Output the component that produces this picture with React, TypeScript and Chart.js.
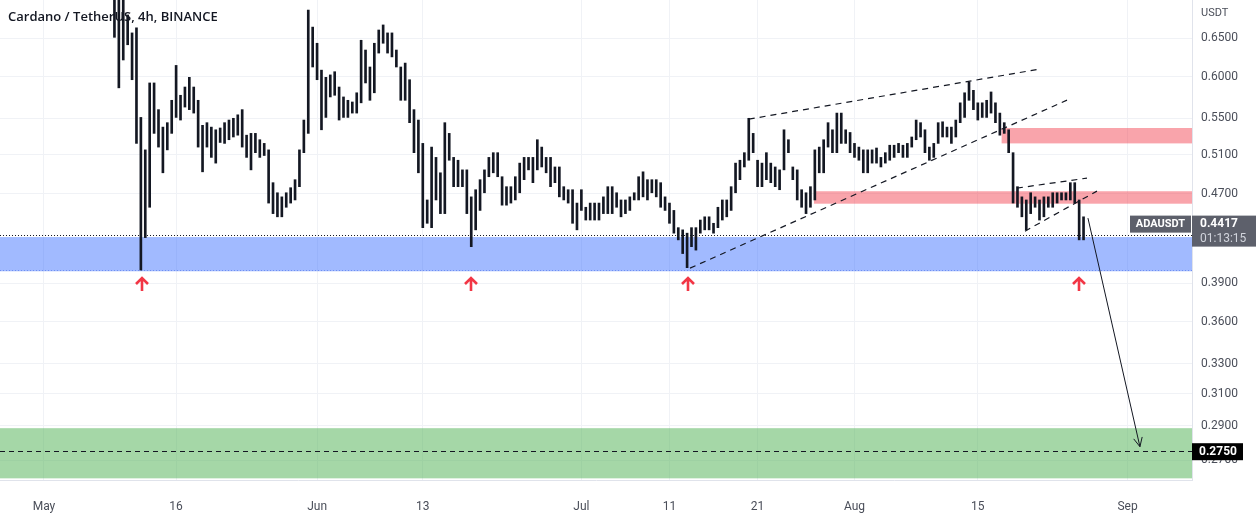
import React, { useEffect, useRef } from "react";
import { Chart, registerables } from "chart.js";

Chart.register(...registerables);

// ---- data (time in days since 1 May 2022, prices in USDT) ----
const candleStartDay = 8; // 9 May 2022 00:00
const candleStepDays = 0.5;

const highs = [
  0.760, 0.740, 0.720, 0.682, 0.657, 0.664, 0.551, 0.515, 0.592, 0.592,
  0.560, 0.540, 0.545, 0.571, 0.614, 0.577, 0.587, 0.599, 0.587, 0.571,
  0.542, 0.545, 0.540, 0.537, 0.539, 0.545, 0.548, 0.550, 0.554, 0.560,
  0.531, 0.533, 0.533, 0.526, 0.522, 0.515, 0.481, 0.471, 0.467, 0.471,
  0.476, 0.484, 0.515, 0.548, 0.689, 0.665, 0.643, 0.608, 0.599, 0.602,
  0.606, 0.587, 0.575, 0.571, 0.569, 0.580, 0.647, 0.634, 0.612, 0.643,
  0.661, 0.668, 0.657, 0.657, 0.634, 0.612, 0.617, 0.596, 0.560, 0.548,
  0.522, 0.464, 0.518, 0.507, 0.491, 0.545, 0.533, 0.507, 0.504, 0.494,
  0.494, 0.467, 0.474, 0.484, 0.494, 0.507, 0.512, 0.512, 0.487, 0.477,
  0.477, 0.487, 0.501, 0.507, 0.507, 0.507, 0.526, 0.518, 0.507, 0.507,
  0.497, 0.497, 0.477, 0.474, 0.474, 0.461, 0.474, 0.457, 0.461, 0.461,
  0.461, 0.467, 0.477, 0.477, 0.471, 0.464, 0.464, 0.467, 0.471, 0.487,
  0.492, 0.484, 0.484, 0.484, 0.481, 0.467, 0.461, 0.454, 0.438, 0.436,
  0.433, 0.438, 0.438, 0.445, 0.448, 0.448, 0.442, 0.457, 0.464, 0.464,
  0.477, 0.501, 0.504, 0.512, 0.550, 0.533, 0.504, 0.501, 0.512, 0.501,
  0.497, 0.494, 0.537, 0.526, 0.497, 0.494, 0.474, 0.471, 0.477, 0.515,
  0.518, 0.526, 0.545, 0.537, 0.556, 0.556, 0.537, 0.534, 0.522, 0.518,
  0.515, 0.515, 0.515, 0.517, 0.507, 0.512, 0.520, 0.520, 0.522, 0.520,
  0.522, 0.529, 0.548, 0.545, 0.537, 0.518, 0.522, 0.545, 0.546, 0.540,
  0.540, 0.548, 0.568, 0.580, 0.593, 0.583, 0.568, 0.568, 0.571, 0.581,
  0.568, 0.556, 0.545, 0.537, 0.512, 0.477, 0.467, 0.464, 0.471, 0.467,
  0.464, 0.467, 0.467, 0.471, 0.471, 0.471, 0.471, 0.481, 0.481, 0.464,
  0.448,
];

const lows = [
  0.651, 0.586, 0.621, 0.641, 0.596, 0.522, 0.401, 0.429, 0.457, 0.533,
  0.518, 0.491, 0.515, 0.533, 0.551, 0.548, 0.563, 0.560, 0.556, 0.518,
  0.492, 0.518, 0.507, 0.501, 0.523, 0.522, 0.526, 0.529, 0.531, 0.518,
  0.507, 0.494, 0.512, 0.507, 0.509, 0.461, 0.451, 0.448, 0.448, 0.457,
  0.461, 0.464, 0.477, 0.512, 0.533, 0.612, 0.596, 0.537, 0.551, 0.575,
  0.577, 0.548, 0.551, 0.551, 0.556, 0.556, 0.568, 0.592, 0.571, 0.580,
  0.630, 0.643, 0.630, 0.625, 0.612, 0.571, 0.571, 0.545, 0.512, 0.491,
  0.438, 0.442, 0.438, 0.464, 0.451, 0.451, 0.504, 0.477, 0.477, 0.477,
  0.451, 0.421, 0.436, 0.454, 0.471, 0.487, 0.491, 0.487, 0.459, 0.459,
  0.461, 0.464, 0.471, 0.484, 0.494, 0.481, 0.494, 0.497, 0.491, 0.477,
  0.481, 0.467, 0.464, 0.461, 0.442, 0.436, 0.454, 0.445, 0.445, 0.445,
  0.445, 0.451, 0.451, 0.451, 0.457, 0.448, 0.451, 0.454, 0.464, 0.464,
  0.467, 0.464, 0.471, 0.467, 0.457, 0.454, 0.442, 0.433, 0.427, 0.415,
  0.403, 0.421, 0.418, 0.433, 0.436, 0.436, 0.433, 0.438, 0.445, 0.448,
  0.454, 0.471, 0.484, 0.497, 0.504, 0.512, 0.477, 0.477, 0.484, 0.481,
  0.477, 0.474, 0.494, 0.512, 0.484, 0.464, 0.457, 0.451, 0.457, 0.464,
  0.491, 0.491, 0.518, 0.512, 0.512, 0.522, 0.522, 0.512, 0.507, 0.504,
  0.491, 0.491, 0.501, 0.501, 0.497, 0.501, 0.504, 0.507, 0.512, 0.507,
  0.507, 0.518, 0.526, 0.529, 0.512, 0.504, 0.507, 0.522, 0.529, 0.529,
  0.522, 0.529, 0.545, 0.551, 0.571, 0.560, 0.548, 0.551, 0.551, 0.556,
  0.545, 0.531, 0.533, 0.512, 0.461, 0.457, 0.448, 0.436, 0.451, 0.457,
  0.445, 0.448, 0.457, 0.457, 0.461, 0.464, 0.464, 0.464, 0.461, 0.427,
  0.427,
];

const xTickDays = [0, 15, 31, 43, 61, 71, 81, 92, 106, 123];
const xTickLabels = ["May", "16", "Jun", "13", "Jul", "11", "21", "Aug", "15", "Sep"];
const yTickValues = [0.27, 0.29, 0.31, 0.33, 0.36, 0.39, 0.47, 0.51, 0.55, 0.6, 0.65];

const viewDays = [-4.99, 130.31];
const viewPrices = [0.259, 0.7036];

// zones: [startDay, low, high]
const supportZone = [viewDays[0], 0.4, 0.4295];
const supportLine = 0.4313;
const upperSupplyZone = [108.7, 0.522, 0.539];
const lowerSupplyZone = [87.4, 0.4604, 0.4725];
const targetZone = [viewDays[0], 0.2599, 0.2885];
const targetPrice = 0.275;
const lastPrice = 0.4417;
const countdown = "01:13:15";
const symbol = "ADAUSDT";
const titleText = "Cardano / TetherUS, 4h, BINANCE";
const currency = "USDT";

// trend lines: [day0, price0, day1, price1]
const trendLines = [
  [80.0, 0.549, 113.05, 0.6094],
  [73.33, 0.4026, 116.12, 0.5712],
  [110.44, 0.4756, 118.39, 0.4856],
  [111.35, 0.4348, 119.52, 0.4726],
];
const projection = [118.5, 0.4468, 124.4, 0.2776];
const bounceDays = [11.12, 48.47, 73.1, 117.48];
const bouncePrice = 0.3895;

const TEXT = "#131722";
const AXIS_TEXT = "#4a4e59";
const FONT = "Roboto, 'Liberation Sans', sans-serif";

const overlay = {
  id: "tvOverlay",
  beforeDatasetsDraw(chart: any) {
    const { ctx, chartArea: a, scales } = chart;
    const X = (d: number) => scales.x.getPixelForValue(d);
    const Y = (v: number) => scales.y.getPixelForValue(v);
    ctx.save();
    ctx.beginPath();
    ctx.rect(a.left, a.top, a.right - a.left, a.bottom - a.top);
    ctx.clip();
    const band = (z: number[], color: string) => {
      const x0 = X(z[0]);
      const x1 = X(viewDays[1]);
      const y0 = Y(z[2]);
      const y1 = Y(z[1]);
      ctx.fillStyle = color;
      ctx.fillRect(x0, y0, x1 - x0, y1 - y0);
    };
    band(targetZone, "rgba(76,175,80,0.5)");
    band(supportZone, "rgba(41,98,255,0.44)");
    band(upperSupplyZone, "rgba(242,54,69,0.45)");
    band(lowerSupplyZone, "rgba(242,54,69,0.45)");

    ctx.lineWidth = 1;
    ctx.setLineDash([1, 2]);
    ctx.strokeStyle = TEXT;
    let y = Math.round(Y(supportLine)) + 0.5;
    ctx.beginPath();
    ctx.moveTo(a.left, y);
    ctx.lineTo(a.right, y);
    ctx.stroke();
    ctx.strokeStyle = "#6f8ff0";
    y = Math.round(Y(supportZone[1])) - 0.5;
    ctx.beginPath();
    ctx.moveTo(a.left, y);
    ctx.lineTo(a.right, y);
    ctx.stroke();

    ctx.setLineDash([5, 4]);
    ctx.strokeStyle = TEXT;
    y = Math.round(Y(targetPrice)) + 0.5;
    ctx.beginPath();
    ctx.moveTo(a.left, y);
    ctx.lineTo(a.right, y);
    ctx.stroke();
    ctx.setLineDash([]);

    ctx.fillStyle = TEXT;
    ctx.font = "600 13px 'Open Sans', sans-serif";
    ctx.textAlign = "left";
    ctx.textBaseline = "middle";
    ctx.fillText(titleText, 8, 17);
    ctx.restore();
  },
  afterDatasetsDraw(chart: any) {
    const { ctx, chartArea: a, scales } = chart;
    const X = (d: number) => scales.x.getPixelForValue(d);
    const Y = (v: number) => scales.y.getPixelForValue(v);
    ctx.save();
    ctx.beginPath();
    ctx.rect(a.left, a.top, a.right - a.left, a.bottom - a.top);
    ctx.clip();

    ctx.strokeStyle = TEXT;
    ctx.lineWidth = 1.2;
    ctx.setLineDash([6, 5]);
    for (const t of trendLines) {
      ctx.beginPath();
      ctx.moveTo(X(t[0]), Y(t[1]));
      ctx.lineTo(X(t[2]), Y(t[3]));
      ctx.stroke();
    }
    ctx.setLineDash([]);

    // projection arrow
    const x0 = X(projection[0]);
    const y0 = Y(projection[1]);
    const x1 = X(projection[2]);
    const y1 = Y(projection[3]);
    ctx.lineWidth = 1;
    ctx.beginPath();
    ctx.moveTo(x0, y0);
    ctx.lineTo(x1, y1);
    const ang = Math.atan2(y1 - y0, x1 - x0);
    const hl = 10;
    ctx.moveTo(x1 - hl * Math.cos(ang - 0.45), y1 - hl * Math.sin(ang - 0.45));
    ctx.lineTo(x1, y1);
    ctx.lineTo(x1 - hl * Math.cos(ang + 0.45), y1 - hl * Math.sin(ang + 0.45));
    ctx.stroke();

    // bounce markers
    ctx.strokeStyle = "#f23645";
    ctx.lineWidth = 2.6;
    ctx.lineJoin = "miter";
    const cy = Y(bouncePrice);
    for (const d of bounceDays) {
      const cx = Math.round(X(d));
      ctx.beginPath();
      ctx.moveTo(cx, cy - 6);
      ctx.lineTo(cx, cy + 7);
      ctx.moveTo(cx - 6, cy);
      ctx.lineTo(cx, cy - 6);
      ctx.lineTo(cx + 6, cy);
      ctx.stroke();
    }
    ctx.restore();
  },
  afterDraw(chart: any) {
    const { ctx, chartArea: a, scales } = chart;
    const Y = (v: number) => scales.y.getPixelForValue(v);
    ctx.save();
    ctx.textBaseline = "middle";
    ctx.textAlign = "left";
    ctx.fillStyle = AXIS_TEXT;
    ctx.font = `11px ${FONT}`;
    ctx.fillText(currency, a.right + 9, 13);

    const yp = Y(lastPrice);
    ctx.fillStyle = "#5d606b";
    ctx.fillRect(a.right - 62, yp - 8, 61, 17);
    ctx.fillRect(a.right, yp - 8, 64, 31);
    ctx.fillStyle = "#ffffff";
    ctx.font = `bold 11px ${FONT}`;
    ctx.textAlign = "center";
    ctx.fillText(symbol, a.right - 31.5, yp + 0.5);
    ctx.textAlign = "left";
    ctx.font = `bold 12px ${FONT}`;
    ctx.fillText(lastPrice.toFixed(4), a.right + 8, yp + 0.5);
    ctx.fillStyle = "#d1d4dc";
    ctx.font = `12px ${FONT}`;
    ctx.fillText(countdown, a.right + 8, yp + 15);

    const yt = Y(targetPrice);
    ctx.fillStyle = "#000000";
    ctx.fillRect(a.right, yt - 8, 51, 17);
    ctx.fillStyle = "#ffffff";
    ctx.font = `bold 12px ${FONT}`;
    ctx.fillText(targetPrice.toFixed(4), a.right + 7, yt + 0.5);
    ctx.restore();
  },
};

export default function App() {
  const ref = useRef<HTMLCanvasElement | null>(null);
  useEffect(() => {
    document.body.style.margin = "0";
    const canvas = ref.current;
    if (!canvas) return;
    const data = highs.map((h, i) => ({
      x: candleStartDay + i * candleStepDays,
      y: [lows[i], h],
    }));
    const chart = new Chart(canvas, {
      type: "bar",
      data: {
        datasets: [
          {
            data: data as any,
            backgroundColor: "#131722",
            borderWidth: 0,
            barThickness: 2,
          } as any,
        ],
      },
      options: {
        animation: false,
        responsive: false,
        maintainAspectRatio: false,
        layout: { padding: 0 },
        plugins: { legend: { display: false }, tooltip: { enabled: false } },
        scales: {
          x: {
            type: "linear",
            offset: false,
            min: viewDays[0],
            max: viewDays[1],
            afterBuildTicks: (s: any) => {
              s.ticks = xTickDays.map((v) => ({ value: v }));
            },
            afterFit: (s: any) => {
              s.height = 41;
              s.paddingLeft = 0;
              s.paddingRight = 0;
            },
            ticks: {
              autoSkip: false,
              maxRotation: 0,
              padding: 20,
              color: AXIS_TEXT,
              font: { family: FONT, size: 12 },
              callback: (v: any) => {
                const i = xTickDays.indexOf(Number(v));
                return i >= 0 ? xTickLabels[i] : "";
              },
            },
            grid: { color: "#f0f2f6", drawTicks: false, offset: false },
            border: { color: "#e0e3eb" },
          },
          y: {
            type: "logarithmic",
            position: "right",
            min: viewPrices[0],
            max: viewPrices[1],
            afterBuildTicks: (s: any) => {
              s.ticks = yTickValues.map((v) => ({ value: v }));
            },
            afterFit: (s: any) => {
              s.width = 68;
              s.paddingTop = 0;
              s.paddingBottom = 0;
            },
            ticks: {
              autoSkip: false,
              padding: 9,
              color: AXIS_TEXT,
              font: { family: FONT, size: 12 },
              callback: (v: any) => Number(v).toFixed(4),
            },
            grid: { color: "#f0f2f6", drawTicks: false },
            border: { color: "#e0e3eb" },
          },
        },
      } as any,
      plugins: [overlay as any],
    });
    return () => chart.destroy();
  }, []);
  return (
    <div style={{ width: 1260, height: 521 }}>
      <canvas ref={ref} width={1260} height={521} style={{ display: "block" }} />
    </div>
  );
}
